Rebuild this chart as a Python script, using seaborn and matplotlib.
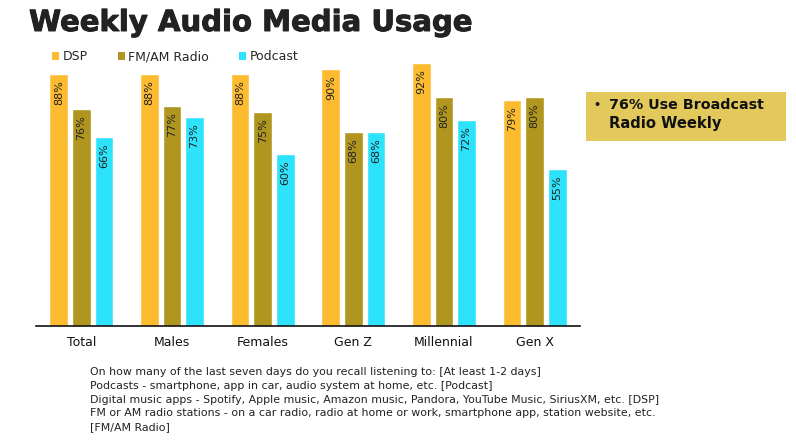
import matplotlib
matplotlib.use("Agg")
import matplotlib.pyplot as plt
import matplotlib.patheffects as pe
import seaborn as sns
import pandas as pd
from matplotlib.patches import Rectangle, Patch

categories = ["Total", "Males", "Females", "Gen Z", "Millennial", "Gen X"]
series_names = ["DSP", "FM/AM Radio", "Podcast"]
dsp = [88, 88, 88, 90, 92, 79]
fm_am = [76, 77, 75, 68, 80, 80]
podcast = [66, 73, 60, 68, 72, 55]
colors = ["#FDBB2F", "#B0961F", "#2DE2FB"]

title = "Weekly Audio Media Usage"
callout_lines = ["76% Use Broadcast", "Radio Weekly"]
footnote_lines = [
    "On how many of the last seven days do you recall listening to: [At least 1-2 days]",
    "Podcasts - smartphone, app in car, audio system at home, etc. [Podcast]",
    "Digital music apps - Spotify, Apple music, Amazon music, Pandora, YouTube Music, SiriusXM, etc. [DSP]",
    "FM or AM radio stations - on a car radio, radio at home or work, smartphone app, station website, etc.",
    "[FM/AM Radio]",
]

rows = []
for s, vals in zip(series_names, [dsp, fm_am, podcast]):
    for c, v in zip(categories, vals):
        rows.append({"Group": c, "Series": s, "Value": v})
df = pd.DataFrame(rows)

sns.set_theme(style="white")
plt.rcParams["font.family"] = ["DejaVu Sans"]

W, H = 796, 445
fig = plt.figure(figsize=(W / 100, H / 100), dpi=100)
ax_left, ax_right, base_y = 36, 580, 326
px_per_unit = 2.86
ax_h = 100 * px_per_unit
ax = fig.add_axes([ax_left / W, (H - base_y) / H, (ax_right - ax_left) / W, ax_h / H])

sns.barplot(data=df, x="Group", y="Value", hue="Series", order=categories,
            hue_order=series_names, palette=colors, width=0.745, gap=0.17,
            saturation=1, ax=ax, legend=False)
ax.set_ylim(0, 100)
ax.set_xlim(-0.5, 5.5)
ax.set_xlabel("")
ax.set_ylabel("")
ax.set_yticks([])
ax.tick_params(axis="x", length=0, labelsize=9, pad=7, colors="#111111")
for side in ["top", "right", "left"]:
    ax.spines[side].set_visible(False)
ax.spines["bottom"].set_color("#111111")
ax.spines["bottom"].set_linewidth(1.2)

for cont in ax.containers:
    for bar in cont:
        h = bar.get_height()
        ax.text(bar.get_x() + bar.get_width() / 2, h - 2.2, f"{int(round(h))}%",
                rotation=90, ha="center", va="top", fontsize=8, color="#222222")

handles = [Patch(facecolor=c, edgecolor="none") for c in colors]
fig.legend(handles, series_names, loc="center left", bbox_to_anchor=(52 / W, 1 - 57 / H),
           ncol=3, frameon=False, fontsize=9, handlelength=0.55, handleheight=0.55,
           handletextpad=0.3, columnspacing=2.4, borderaxespad=0, borderpad=0)

renderer = fig.canvas.get_renderer()

def fit_text(x, y, s, target_w, size, **kw):
    t = fig.text(x / W, 1 - y / H, s, fontsize=size, **kw)
    w = t.get_window_extent(renderer).width
    t.set_fontsize(size * target_w / w)
    return t

t = fit_text(29, 23, title, 442, 22, fontweight="bold", color="#222222",
             va="center", ha="left")
t.set_path_effects([pe.Stroke(linewidth=0.7, foreground="#222222"), pe.Normal()])

fig.patches.append(Rectangle((586 / W, 1 - 141 / H), 200 / W, 49 / H,
                             transform=fig.transFigure, facecolor="#E3C95C",
                             edgecolor="none"))
fig.text(593 / W, 1 - 105 / H, "•", fontsize=8, fontweight="bold",
         color="#111111", va="center", ha="left")
for s, y, w in [(callout_lines[0], 105, 154), (callout_lines[1], 124, 112)]:
    fit_text(609, y, s, w, 11, fontweight="bold", color="#111111",
             va="center", ha="left")

probe = fig.text(0, 0, footnote_lines[2], fontsize=8)
fsize = 8 * 570 / probe.get_window_extent(renderer).width
probe.remove()
for i, line in enumerate(footnote_lines):
    fig.text(90 / W, 1 - (372 + 13.8 * i) / H, line, fontsize=fsize,
             color="#222222", va="center", ha="left")

fig.savefig("out.png", dpi=100)
